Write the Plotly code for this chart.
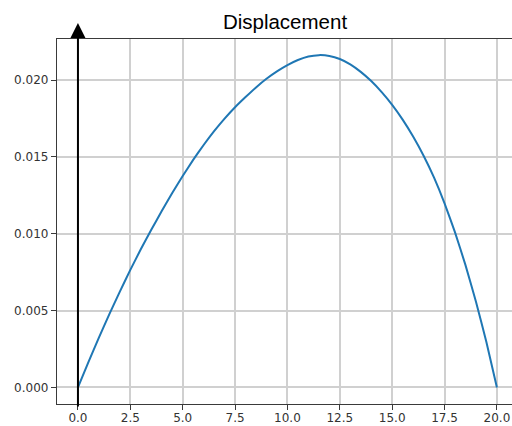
import plotly.graph_objects as go

# Values
time_s = [0.0, 0.5, 1.0, 1.5, 2.0, 2.5, 3.0, 3.5, 4.0, 4.5, 5.0, 5.5, 6.0, 6.5, 7.0,
          7.5, 8.0, 8.5, 9.0, 9.5, 10.0, 10.5, 11.0, 11.5, 12.0, 12.5, 13.0, 13.5,
          14.0, 14.5, 15.0, 15.5, 16.0, 16.5, 17.0, 17.5, 18.0, 18.5, 19.0, 19.5, 20.0]
displacement = [0.0, 0.00164, 0.00324, 0.00477, 0.00624, 0.00765, 0.00899, 0.01026,
                0.01148, 0.01265, 0.01376, 0.01481, 0.01578, 0.01668, 0.01750, 0.01824,
                0.01890, 0.01953, 0.02009, 0.02057, 0.02098, 0.02131, 0.02154, 0.02163,
                0.02158, 0.02138, 0.02103, 0.02054, 0.01994, 0.01922, 0.01839, 0.01743,
                0.01633, 0.01508, 0.01365, 0.01198, 0.01009, 0.00796, 0.00558, 0.00294,
                0.0]
x_ticks = [0.0, 2.5, 5.0, 7.5, 10.0, 12.5, 15.0, 17.5, 20.0]
y_ticks = [0.000, 0.005, 0.010, 0.015, 0.020]

fig = go.Figure()
fig.add_trace(go.Scatter(x=time_s, y=displacement, mode="lines",
                         line=dict(color="#1f77b4", width=2, shape="spline", smoothing=0.4),
                         showlegend=False, hoverinfo="skip"))

axis_common = dict(showline=True, mirror=True, linecolor="#3a3a3a", linewidth=1.3,
                   ticks="outside", ticklen=5, tickwidth=1.2, tickcolor="#3a3a3a",
                   showgrid=True, gridcolor="#d0d0d0", gridwidth=1.5, zeroline=False,
                   automargin=False,
                   tickfont=dict(family="DejaVu Sans", size=12, color="#333333"))

fig.update_xaxes(range=[-1.0, 20.72], tickvals=x_ticks,
                 ticktext=[f"{v:.1f}" for v in x_ticks], ticklabeloverflow="allow",
                 ticklabelstandoff=-3, **axis_common)
fig.update_yaxes(range=[-0.00108, 0.02268], tickvals=y_ticks,
                 ticktext=[f"{v:.3f}" for v in y_ticks], **axis_common)

fig.add_annotation(x=0, xref="x", y=1.0438, yref="paper", text="", showarrow=True,
                   ax=0, ay=385, axref="pixel", ayref="pixel",
                   arrowhead=2, arrowsize=1.5, arrowwidth=2, arrowcolor="black")

fig.update_layout(
    width=512, height=426,
    margin=dict(l=57, r=0, t=39, b=22, autoexpand=False),
    paper_bgcolor="white", plot_bgcolor="white",
    title=dict(text="Displacement", x=285 / 512, xref="container", xanchor="center",
               y=1 - 22 / 426, yref="container", yanchor="middle",
               font=dict(family="Liberation Sans", size=20.5, color="black")),
)

# Remove the default page margin so the figure fills the window exactly
fig.write_html("out.html",
               config={"displayModeBar": False},
               post_script="document.body.style.margin='0px';"
                           "document.documentElement.style.overflow='hidden';"
                           "document.body.style.overflow='hidden';")
